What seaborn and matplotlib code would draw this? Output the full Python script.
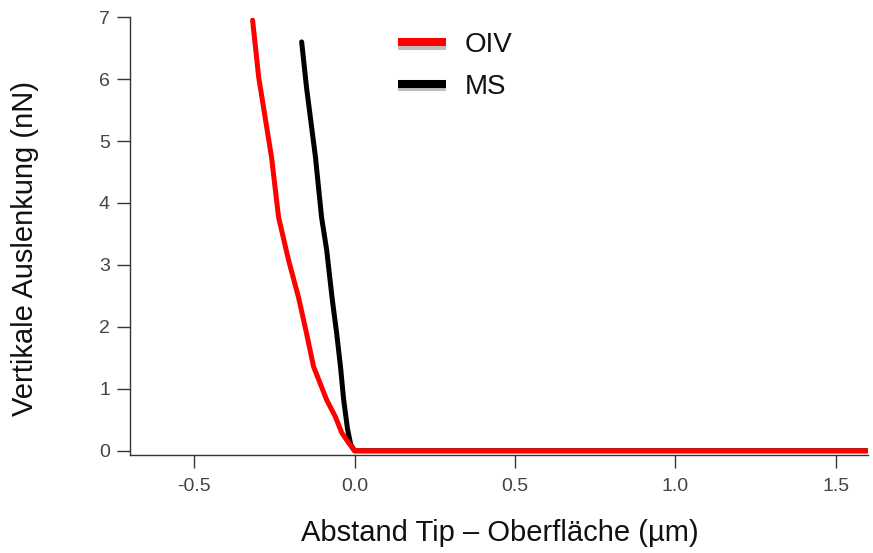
import matplotlib
matplotlib.use("Agg")
import matplotlib.pyplot as plt
import seaborn as sns
import pandas as pd
import matplotlib.patheffects as pe
from matplotlib.lines import Line2D

# Data
oiv_x = [-0.318, -0.299, -0.259, -0.237, -0.206, -0.174, -0.150, -0.128, -0.112,
         -0.087, -0.060, -0.040, -0.019, -0.003, 0.0, 1.6]
oiv_y = [6.95, 6.03, 4.74, 3.77, 3.08, 2.46, 1.90, 1.36, 1.15,
         0.82, 0.55, 0.29, 0.13, 0.02, 0.0, 0.0]
ms_x = [-0.165, -0.150, -0.122, -0.103, -0.087, -0.070, -0.056, -0.044, -0.034,
        -0.022, -0.012, 0.0, 1.6]
ms_y = [6.60, 5.87, 4.74, 3.77, 3.24, 2.46, 1.90, 1.36, 0.82,
        0.35, 0.10, 0.0, 0.0]
series_names = ["OIV", "MS"]
x_ticks = [-0.5, 0.0, 0.5, 1.0, 1.5]
y_ticks = [0, 1, 2, 3, 4, 5, 6, 7]

df = pd.concat([
    pd.DataFrame({"x": oiv_x, "y": oiv_y, "s": series_names[0]}),
    pd.DataFrame({"x": ms_x, "y": ms_y, "s": series_names[1]}),
], ignore_index=True)

sns.set_style("white")
plt.rcParams["font.family"] = ["Liberation Sans", "DejaVu Sans"]

fig = plt.figure(figsize=(8.73, 5.53), dpi=100)
ax = fig.add_axes([0.149, 0.177, 0.845, 0.792])

palette = {"OIV": "#ff0000", "MS": "#000000"}
sns.lineplot(data=df[df.s == "MS"], x="x", y="y", color=palette["MS"], lw=3.6,
             sort=False, ax=ax, legend=False)
sns.lineplot(data=df[df.s == "OIV"], x="x", y="y", color=palette["OIV"], lw=3.6,
             sort=False, ax=ax, legend=False)

ax.set_xlim(-0.70, 1.60)
ax.set_ylim(-0.07, 7.0)
ax.set_xticks(x_ticks)
ax.set_xticklabels([f"{v:.1f}" for v in x_ticks])
ax.set_yticks(y_ticks)
ax.set_yticklabels([str(v) for v in y_ticks])

for side in ["top", "right"]:
    ax.spines[side].set_visible(False)
for side in ["left", "bottom"]:
    ax.spines[side].set_color("#333333")
    ax.spines[side].set_linewidth(1.0)
ax.tick_params(axis="both", direction="out", length=9.5, width=1.0, color="#333333",
               labelsize=14, labelcolor="#444444", left=True, bottom=True)
ax.tick_params(axis="x", pad=7)
ax.tick_params(axis="y", pad=5)

ax.set_xlabel("Abstand Tip – Oberfläche (µm)", fontsize=21, va="center", color="#111111")
ax.xaxis.set_label_coords(0.501, -0.178)
ax.set_ylabel("Vertikale Auslenkung (nN)", fontsize=21, va="center", color="#111111")
ax.yaxis.set_label_coords(-0.142, 0.471)

# Legend
shadow = [pe.SimpleLineShadow(offset=(0, -2.5), alpha=0.25), pe.Normal()]
handles = [Line2D([], [], color=palette[n], lw=5.8, solid_capstyle="butt",
                  path_effects=shadow) for n in series_names]
leg = fig.legend(handles, series_names, loc="upper left",
                 bbox_to_anchor=(398 / 873, 1 - 32 / 553),
                 frameon=False, fontsize=20, handlelength=1.73, handletextpad=0.68,
                 labelspacing=0.56, borderpad=0, borderaxespad=0)
for t in leg.get_texts():
    t.set_color("#111111")

fig.savefig("out.png", dpi=100)
